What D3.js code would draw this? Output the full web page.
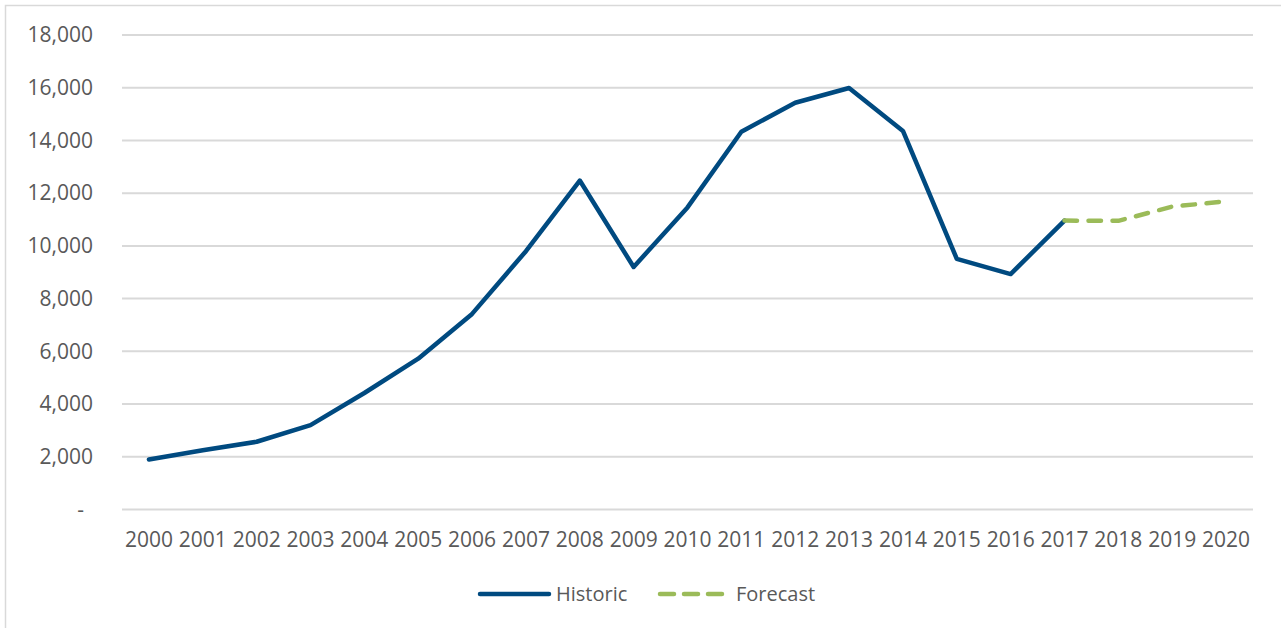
<!DOCTYPE html>
<html>
<head>
<meta charset="utf-8">
<script src="https://cdn.jsdelivr.net/npm/d3@7"></script>
<style>
  html, body { margin: 0; padding: 0; background: #fff; }
  svg { display: block; }
  text { font-family: "Open Sans", "Liberation Sans", sans-serif; fill: #595959; }
</style>
</head>
<body>
<svg id="chart" width="1281" height="628"></svg>
<script>
// Annual totals, 2000–2020
const years = ["2000","2001","2002","2003","2004","2005","2006","2007","2008","2009","2010",
               "2011","2012","2013","2014","2015","2016","2017","2018","2019","2020"];
const historicYears = years.slice(0, 18);
const historicValues = [1900, 2250, 2570, 3200, 4420, 5720, 7420, 9800, 12480, 9200, 11460,
                        14330, 15430, 15990, 14360, 9510, 8930, 10960];
const forecastYears = ["2017","2018","2019","2020"];
const forecastValues = [10960, 10950, 11490, 11690];
const yTicks = [0, 2000, 4000, 6000, 8000, 10000, 12000, 14000, 16000, 18000];
const seriesNames = ["Historic", "Forecast"];
const seriesColors = ["#004a80", "#9bbb59"];

const svg = d3.select("#chart");

// Outer chart frame
svg.append("rect")
  .attr("x", 5.5).attr("y", 5.5)
  .attr("width", 1290).attr("height", 640)
  .attr("fill", "none").attr("stroke", "#d9d9d9").attr("stroke-width", 1.5);

const plot = { left: 122, right: 1253, top: 35, bottom: 509.5 };

const x = d3.scaleBand().domain(years).range([plot.left, plot.right]);
const y = d3.scaleLinear().domain([0, 18000]).range([plot.bottom, plot.top]);
const cx = d => x(d) + x.bandwidth() / 2;

// Gridlines
svg.append("g")
  .selectAll("line")
  .data(yTicks)
  .join("line")
  .attr("x1", plot.left).attr("x2", plot.right)
  .attr("y1", d => y(d)).attr("y2", d => y(d))
  .attr("stroke", "#d9d9d9").attr("stroke-width", 2);

const fontStack = "\"Open Sans\", \"Liberation Sans\", sans-serif";

// Y axis labels
const fmt = d3.format(",");
const yAxis = d3.axisLeft(y).tickValues(yTicks).tickSize(0).tickPadding(0)
  .tickFormat(d => d === 0 ? "-" : fmt(d));
const yg = svg.append("g").attr("transform", `translate(93,0)`).call(yAxis);
yg.select(".domain").remove();
yg.selectAll("text").style("font-size", "21px").attr("fill", "#595959")
  .attr("dx", d => d === 0 ? "-9px" : 0)
  .attr("font-family", fontStack);

// X axis labels
const xAxis = d3.axisBottom(x).tickSize(0).tickPadding(0);
const xg = svg.append("g").attr("transform", `translate(0,${plot.bottom + 23})`).call(xAxis);
xg.select(".domain").remove();
xg.selectAll("text").style("font-size", "21px").attr("fill", "#595959")
  .attr("font-family", fontStack);

// Lines
const line = d3.line().x(d => cx(d[0])).y(d => y(d[1]));

svg.append("path")
  .datum(d3.zip(historicYears, historicValues))
  .attr("d", line)
  .attr("fill", "none")
  .attr("stroke", seriesColors[0])
  .attr("stroke-width", 4.5)
  .attr("stroke-linejoin", "round")
  .attr("stroke-linecap", "round");

svg.append("path")
  .datum(d3.zip(forecastYears, forecastValues))
  .attr("d", line)
  .attr("fill", "none")
  .attr("stroke", seriesColors[1])
  .attr("stroke-width", 4.5)
  .attr("stroke-dasharray", "12.5 11.5")
  .attr("stroke-linejoin", "round")
  .attr("stroke-linecap", "round");

// Legend
const legend = svg.append("g").attr("transform", "translate(0,594)");
legend.append("line")
  .attr("x1", 480).attr("x2", 549).attr("y1", 0).attr("y2", 0)
  .attr("stroke", seriesColors[0]).attr("stroke-width", 4.5).attr("stroke-linecap", "round");
legend.append("text").attr("x", 556).attr("y", 7).style("font-size", "20px").text(seriesNames[0]);
legend.append("line")
  .attr("x1", 660).attr("x2", 722).attr("y1", 0).attr("y2", 0)
  .attr("stroke", seriesColors[1]).attr("stroke-width", 4.5).attr("stroke-linecap", "round")
  .attr("stroke-dasharray", "14 10");
legend.append("text").attr("x", 736).attr("y", 7).style("font-size", "20px").text(seriesNames[1]);
</script>
</body>
</html>
